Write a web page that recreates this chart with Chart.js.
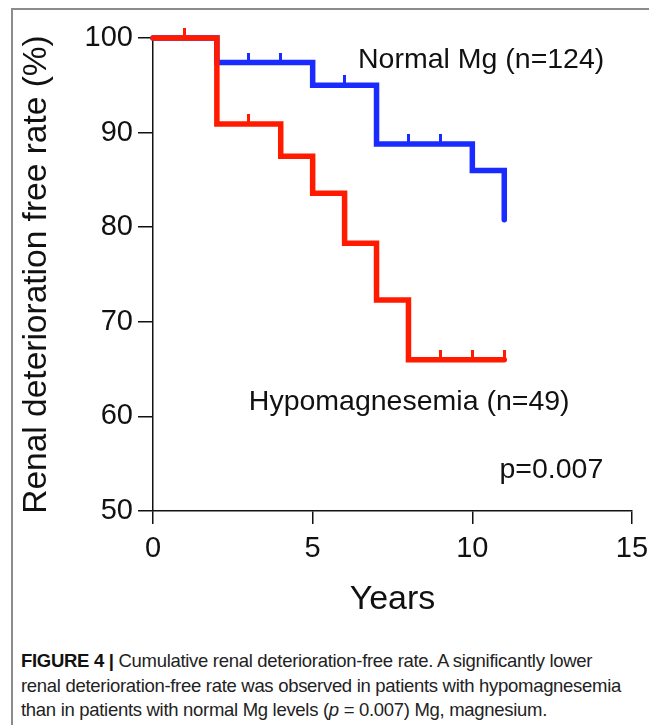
<!DOCTYPE html>
<html lang="en">
<head>
<meta charset="UTF-8">
<title>Cumulative renal deterioration-free rate</title>
<script src="https://cdn.jsdelivr.net/npm/chart.js"></script>
<style>
  body { margin: 0; background: #fff; font-family: "Liberation Sans", Arial, sans-serif; }
  #wrap { position: relative; width: 649px; height: 725px; overflow: hidden; }
  #frame { position: absolute; left: 11px; top: 8px; width: 640px; height: 730px;
           border-left: 2px solid #8c8c8c; border-top: 2px solid #8c8c8c; }
  #plot { position: absolute; left: 0; top: 0; }
  #caption { position: absolute; left: 21px; top: 649px; font-size: 18.5px; line-height: 24.5px;
             color: #222; white-space: nowrap; letter-spacing: -0.3px; }
  #caption b { color: #111; }
</style>
</head>
<body>
<div id="wrap">
  <div id="frame"></div>
  <canvas id="plot" width="649" height="625"></canvas>
  <div id="caption">
    <b>FIGURE 4 |</b> Cumulative renal deterioration-free rate. A significantly lower<br>
    renal deterioration-free rate was observed in patients with hypomagnesemia<br>
    than in patients with normal Mg levels (<i>p</i> = 0.007) Mg, magnesium.
  </div>
</div>
<script>
  // Kaplan-Meier steps (time in years, survival in %)
  const hypoTimes = [0, 2, 4, 5, 6, 7, 8, 11];
  const hypoRate = [100, 90.9, 87.5, 83.6, 78.3, 72.3, 66.0, 66.0];
  const hypoCensored = [1, 3, 9, 10, 11];

  const normalTimes = [0, 2, 5, 7, 10, 11];
  const normalRate = [100, 97.4, 95.0, 88.8, 86.0, 80.8];
  const normalCensored = [3, 4, 6, 8, 9];

  const xTicks = [0, 5, 10, 15];
  const yTicks = [50, 60, 70, 80, 90, 100];

  const RED = "#ff1a00";
  const BLUE = "#1a2bff";
  const FONT = "'Liberation Sans', Arial, sans-serif";

  function toPoints(times, rates) {
    return times.map((t, i) => ({ x: t, y: rates[i] }));
  }

  // survival value at time t for a step curve
  function rateAt(times, rates, t) {
    let v = rates[0];
    for (let i = 0; i < times.length; i++) {
      if (times[i] <= t) v = rates[i];
    }
    return v;
  }

  // small upward tick for censored patients
  function censorMark(color) {
    const c = document.createElement("canvas");
    c.width = 3;
    c.height = 20;
    const g = c.getContext("2d");
    g.fillStyle = color;
    g.fillRect(0, 0, 3, 10);
    return c;
  }

  const labels = [
    { text: "Normal Mg (n=124)", x: 6.42, y: 97.7 },
    { text: "Hypomagnesemia (n=49)", x: 3.0, y: 61.5 },
    { text: "p=0.007", x: 10.85, y: 54.3 }
  ];

  const textPlugin = {
    id: "kmText",
    afterDraw(chart) {
      const ctx = chart.ctx;
      const xs = chart.scales.x, ys = chart.scales.y;
      ctx.save();
      ctx.fillStyle = "#111";
      ctx.font = "28.5px " + FONT;
      ctx.textBaseline = "middle";
      ctx.textAlign = "left";
      labels.forEach(l => {
        ctx.fillText(l.text, xs.getPixelForValue(l.x), ys.getPixelForValue(l.y));
      });
      ctx.restore();
    }
  };

  const lineStyle = {
    borderWidth: 5.5,
    stepped: "before",
    pointRadius: 0,
    fill: false,
    borderCapStyle: "round",
    borderJoinStyle: "miter",
    clip: false
  };

  new Chart(document.getElementById("plot"), {
    type: "line",
    data: {
      datasets: [
        {
          label: "Hypomagnesemia censored",
          data: hypoCensored.map(t => ({ x: t, y: rateAt(hypoTimes, hypoRate, t) })),
          showLine: false,
          pointStyle: censorMark(RED),
          pointRadius: 10,
          clip: false
        },
        Object.assign({
          label: "Hypomagnesemia (n=49)",
          data: toPoints(hypoTimes, hypoRate),
          borderColor: RED
        }, lineStyle),
        {
          label: "Normal Mg censored",
          data: normalCensored.map(t => ({ x: t, y: rateAt(normalTimes, normalRate, t) })),
          showLine: false,
          pointStyle: censorMark(BLUE),
          pointRadius: 10,
          clip: false
        },
        Object.assign({
          label: "Normal Mg (n=124)",
          data: toPoints(normalTimes, normalRate),
          borderColor: BLUE
        }, lineStyle)
      ]
    },
    options: {
      responsive: false,
      animation: false,
      events: [],
      layout: { padding: { top: 38, right: 17, left: 0, bottom: 0 } },
      plugins: { legend: { display: false }, tooltip: { enabled: false } },
      scales: {
        x: {
          type: "linear",
          min: 0,
          max: 15,
          afterFit(scale) {
            scale.height = 114;
            scale.paddingRight = 0;
            scale.paddingLeft = 0;
          },
          afterBuildTicks(scale) { scale.ticks = xTicks.map(v => ({ value: v })); },
          grid: { drawOnChartArea: false, drawTicks: true, tickLength: 13, color: "#111", lineWidth: 1.5 },
          border: { display: true, color: "#111", width: 1.5 },
          ticks: { color: "#111", padding: 8, maxRotation: 0, font: { size: 29, family: FONT } },
          title: {
            display: true,
            text: "Years",
            color: "#111",
            font: { size: 34, family: FONT, lineHeight: 1 },
            padding: { top: 0, bottom: 8 }
          }
        },
        y: {
          min: 50,
          max: 100,
          afterFit(scale) { scale.width = 153; },
          afterBuildTicks(scale) { scale.ticks = yTicks.map(v => ({ value: v })); },
          grid: { drawOnChartArea: false, drawTicks: true, tickLength: 15, color: "#111", lineWidth: 1.5 },
          border: { display: true, color: "#111", width: 1.5 },
          ticks: { color: "#111", padding: 5, font: { size: 29, family: FONT } },
          title: {
            display: true,
            text: "Renal deterioration free rate (%)",
            color: "#111",
            font: { size: 33.5, family: FONT, lineHeight: 1 },
            padding: { top: 20, bottom: 0 }
          }
        }
      }
    },
    plugins: [textPlugin]
  });
</script>
</body>
</html>
